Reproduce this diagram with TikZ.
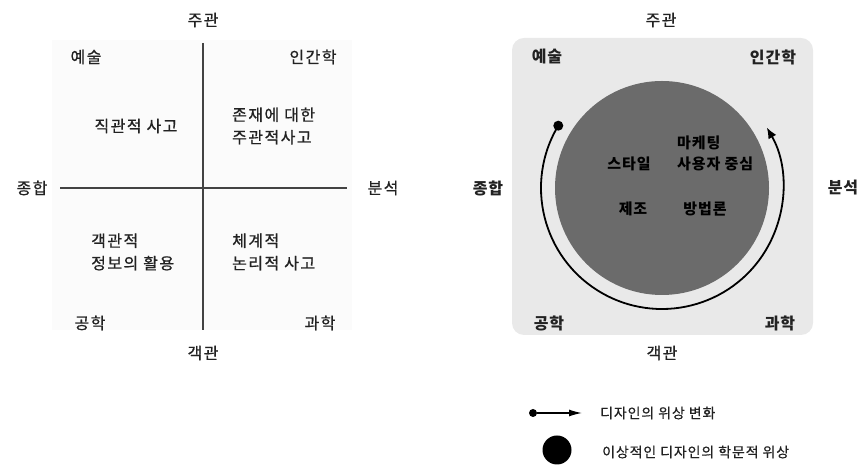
\documentclass[tikz,border=0pt]{standalone}
\usepackage{fontspec}
\setmainfont{Noto Sans CJK KR}
\newfontfamily\krreg[LetterSpace=9,FakeBold=0.8]{Noto Sans CJK KR}
\newfontfamily\krbold[LetterSpace=6]{Noto Sans CJK KR}
\newfontfamily\krleg[LetterSpace=6,FakeBold=0.5]{Noto Sans CJK KR}
\usetikzlibrary{arrows.meta,calc}
\definecolor{ink}{HTML}{222222}
\definecolor{discfill}{HTML}{6B6B6B}
\definecolor{panel}{HTML}{E9E9E9}
\definecolor{faint}{HTML}{FBFBFB}
\tikzset{
  lbl/.style={font=\krreg\fontsize{16}{20}\selectfont, text=ink, inner sep=0pt},
  blbl/.style={font=\krbold\fontsize{16}{20}\selectfont\bfseries, text=ink, inner sep=0pt},
  two/.style={lbl, align=left, font=\krreg\fontsize{16}{22.5}\selectfont},
  inner/.style={font=\krbold\fontsize{15}{20}\selectfont\bfseries, text=black, inner sep=0pt},
  axis/.style={line width=1.4pt, draw=ink!85},
  leg/.style={font=\krleg\fontsize{14}{18}\selectfont, text=ink, inner sep=0pt, anchor=west}
}
\begin{document}
\begin{tikzpicture}[x=1pt,y=1pt]
\useasboundingbox (0,0) rectangle (857,465);
% ---------- left diagram ----------
\fill[faint] (52,135) rectangle (352,425);
\coordinate (vtop) at (203,422);
\coordinate (vbot) at (203,135);
\coordinate (hl) at (60,277);
\coordinate (hr) at (347,277);
\draw[axis] (vtop) -- (vbot);
\draw[axis] (hl) -- (hr);
\node[lbl] (Ltop) at (203,445) {주관};
\node[lbl] (Lbot) at (203,112) {객관};
\node[lbl] (Lleft) at (32,277) {종합};
\node[lbl] (Lright) at (383,277) {분석};
\node[lbl] (Lart) at (86,408) {예술};
\node[lbl] (Lhum) at (313,408) {인간학};
\node[lbl] (Leng) at (90,142) {공학};
\node[lbl] (Lsci) at (320,142) {과학};
\node[lbl] (q1) at (136,339) {직관적 사고};
\node[two, anchor=west] (q2) at (232,339) {존재에 대한\\주관적사고};
\node[two, anchor=west] (q3) at (91,213) {객관적\\정보의 활용};
\node[two, anchor=west] (q4) at (232,213) {체계적\\논리적 사고};
% ---------- right diagram ----------
\node[lbl] (Rtop) at (661,445) {주관};
\fill[panel, rounded corners=12pt] (512,130) rectangle (813,427);
\node[circle, fill=discfill, minimum size=214pt, inner sep=0pt] (disc) at (662,277) {};
\coordinate (arcstart) at ($(disc.center)+(149:121)$);
\draw[line width=1.8pt, black, -{Latex[length=11pt,width=9pt]}]
  (arcstart) arc[start angle=149, end angle=390, radius=121];
\node[circle, fill=black, minimum size=10pt, inner sep=0pt] (startdot) at (arcstart) {};
\node[blbl] (Rart) at (547,408) {예술};
\node[blbl] (Rhum) at (773,408) {인간학};
\node[blbl] (Rleft) at (488,277) {종합};
\node[blbl] (Rright) at (843,277) {분석};
\node[blbl] (Reng) at (549,142) {공학};
\node[blbl] (Rsci) at (780,142) {과학};
\node[lbl] (Rbot) at (662,112) {객관};
\node[inner, anchor=west] (mk) at (677,322) {마케팅};
\node[inner, anchor=west] (uc) at (677,301) {사용자 중심};
\node[inner] (st) at (629,301) {스타일};
\node[inner] (mf) at (633,256) {제조};
\node[inner] (me) at (705,256) {방법론};
% ---------- legend ----------
\node[circle, fill=black, minimum size=8pt, inner sep=0pt] (legdot) at (533,52) {};
\coordinate (legtip) at (582,52);
\draw[line width=1.3pt, -{Latex[length=13pt,width=7pt]}] (legdot) -- (legtip);
\node[leg] (legt1) at (600,52) {디자인의 위상 변화};
\node[circle, fill=black, minimum size=29pt, inner sep=0pt] (bigdot) at (557,15) {};
\node[leg] (legt2) at (602,13) {이상적인 디자인의 학문적 위상};
\end{tikzpicture}
\end{document}
